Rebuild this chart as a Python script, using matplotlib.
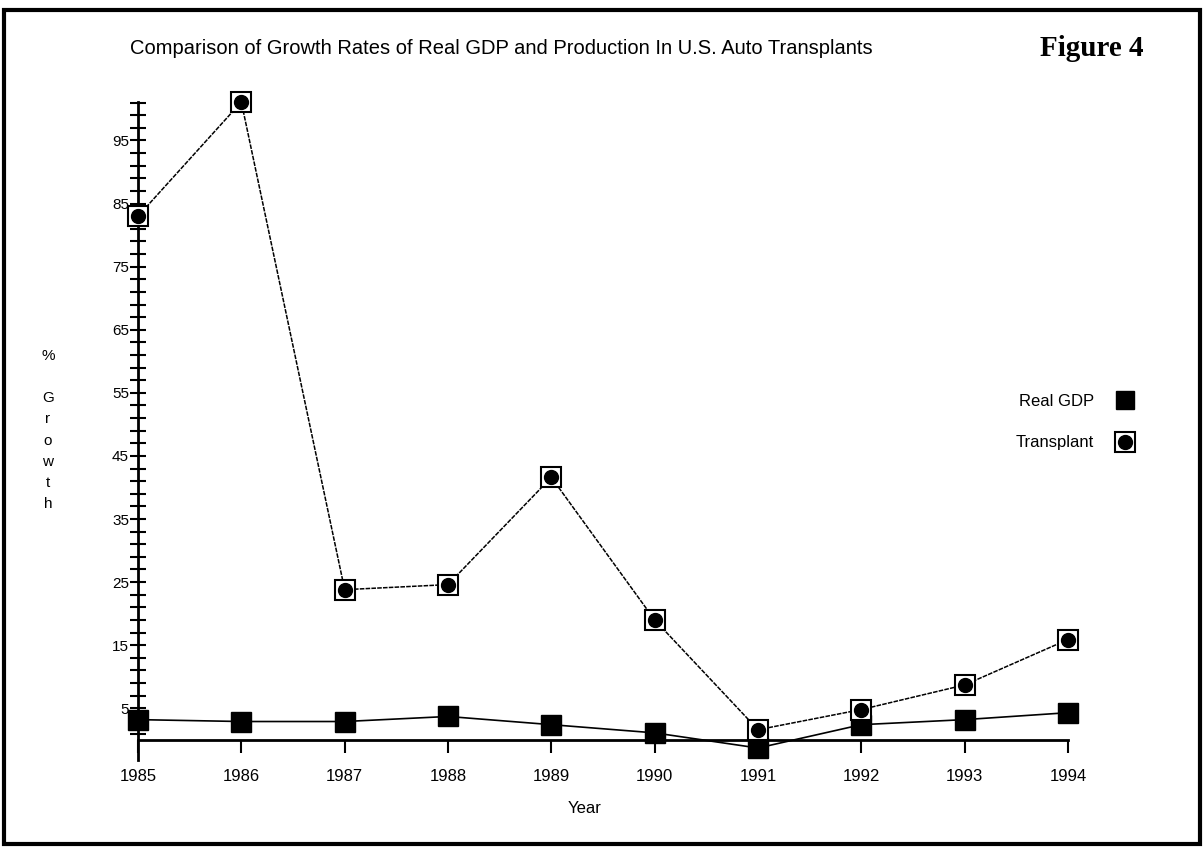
import matplotlib
matplotlib.use("Agg")
import matplotlib.pyplot as plt
from matplotlib.lines import Line2D
from matplotlib.patches import Rectangle
from matplotlib.legend_handler import HandlerTuple

years = [1985, 1986, 1987, 1988, 1989, 1990, 1991, 1992, 1993, 1994]
real_gdp = [3.2, 2.9, 2.9, 3.7, 2.4, 1.1, -1.3, 2.4, 3.2, 4.3]
transplant = [83.0, 101.1, 23.8, 24.6, 41.6, 19.0, 1.6, 4.8, 8.7, 15.9]

y_major = [5, 15, 25, 35, 45, 55, 65, 75, 85, 95]
y_minor = list(range(1, 102, 2))

plt.rcParams["font.family"] = ["Liberation Sans", "DejaVu Sans"]

fig = plt.figure(figsize=(12.04, 8.47), dpi=100)
ax = fig.add_axes([138 / 1204, 1 - 760 / 847, 930 / 1204, (760 - 102) / 847])

# data lines
ax.plot(years, transplant, color="black", lw=1.1, dashes=(3, 0.8), zorder=2)
ax.plot(years, real_gdp, color="black", lw=1.2, zorder=2)
ax.plot(years, real_gdp, "s", color="black", ms=14, zorder=4, clip_on=False)
ax.plot(years, transplant, "s", mfc="white", mec="black", mew=1.5, ms=15,
        zorder=4, clip_on=False)
ax.plot(years, transplant, "o", color="black", ms=10, zorder=5, clip_on=False)

ax.set_xlim(1985, 1994)
ax.set_ylim(-3.2, 101.1)

for s in ["top", "right"]:
    ax.spines[s].set_visible(False)
ax.spines["bottom"].set_position(("data", 0))
ax.spines["bottom"].set_linewidth(2)
ax.spines["left"].set_linewidth(2)

ax.set_xticks(years)
ax.set_xticklabels([str(y) for y in years], fontsize=12)
ax.tick_params(axis="x", direction="out", length=9, width=1.5, pad=12)
ax.set_yticks(y_major)
ax.set_yticklabels([str(v) for v in y_major], fontsize=11)
ax.set_yticks(y_minor, minor=True)
ax.tick_params(axis="y", which="both", direction="inout", length=11, width=1.5, pad=1)

# title, labels
fig.text(130 / 1204, 1 - 48 / 847, "Comparison of Growth Rates of Real GDP and Production In U.S. Auto Transplants",
         fontsize=14.5, va="center", ha="left")
fig.text(1040 / 1204, 1 - 48 / 847, "Figure 4", fontsize=21, fontweight="bold",
         family="Liberation Serif", va="center", ha="left")
fig.text(48 / 1204, 1 - 430 / 847, "%\n\nG\nr\no\nw\nt\nh", fontsize=11,
         ha="center", va="center", linespacing=1.65)
fig.text(585 / 1204, 1 - 808 / 847, "Year", fontsize=12, ha="center", va="center")

# legend (labels left of markers)
gdp_handle = Line2D([], [], ls="none", marker="s", color="black", ms=13)
tr_box = Line2D([], [], ls="none", marker="s", mfc="white", mec="black", mew=1.5, ms=15)
tr_dot = Line2D([], [], ls="none", marker="o", color="black", ms=10)
fig.legend([gdp_handle, (tr_box, tr_dot)], ["Real GDP", "Transplant"], loc="center right",
           bbox_to_anchor=(1157 / 1204, 1 - 422 / 847), frameon=False,
           markerfirst=False, fontsize=12, labelspacing=1.6, handletextpad=0.9,
           handler_map={tuple: HandlerTuple(ndivide=1)})

# page frame
fig.add_artist(Rectangle((0.003, 0.004), 0.994, 0.984, transform=fig.transFigure,
                         fill=False, lw=3, ec="black"))

fig.savefig("out.png", dpi=100)
